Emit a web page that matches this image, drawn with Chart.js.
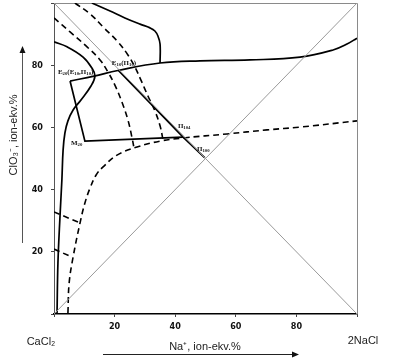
<!DOCTYPE html>
<html>
<head>
<meta charset="utf-8">
<script src="https://cdn.jsdelivr.net/npm/chart.js@4.4.1/dist/chart.umd.min.js"></script>
<style>
  html, body { margin: 0; padding: 0; background: #fff; }
  #wrap { width: 403px; height: 361px; position: relative; }
</style>
</head>
<body>
<div id="wrap"><canvas id="chart"></canvas></div>
<script>
// ── Data (Na+ ion-ekv.%, ClO3- ion-ekv.%) ─────────────────────────
const xTickLabels = [20, 40, 60, 80];
const yTickLabels = [20, 40, 60, 80];

const diagMain  = [[0, 0], [100, 100]];
const diagCross = [[0, 100], [100, 0]];

// solid curves
const curveTop    = [[5.3, 74.9], [13.2, 76.5], [21.1, 78.3], [35.0, 80.7], [48.2, 81.4], [64.7, 81.7], [81.2, 82.6], [92.1, 84.9], [96.7, 86.8], [100, 88.7]];
const curveUpper  = [[12.5, 100], [18.5, 97.4], [23.4, 95.2], [28.4, 93.2], [31.7, 92.0], [33.3, 91.0], [34.3, 89.4], [35.0, 86.8], [35.0, 80.7]];
const curveLeft   = [[0, 87.5], [4.3, 85.9], [9.6, 82.6], [12.5, 79.1], [13.5, 76.5], [12.2, 73.3], [8.9, 68.8], [6.3, 65.6], [4.6, 62.1], [3.6, 58.2], [3.0, 52.7], [2.6, 43.1], [2.0, 31.8], [1.3, 16.4], [1.0, 0.3]];
const polyEdges   = [[5.3, 74.9], [10.2, 55.6], [42.6, 56.9]];
const rayE        = [[21.1, 78.5], [42.6, 56.9], [49.8, 50.2]];

// dashed curves
const dashA = [[0, 95.2], [5.3, 90.7], [10.9, 85.9], [15.2, 81.7], [17.8, 77.8], [20.1, 73.6], [22.4, 68.2], [24.4, 62.4], [25.7, 56.9], [26.4, 53.4]];
const dashB = [[6.9, 100], [11.9, 96.5], [16.2, 92.3], [21.1, 87.5], [24.4, 83.3], [26.7, 79.4], [28.7, 75.2], [31.0, 70.1], [33.3, 65.3], [35.0, 60.5], [36.0, 55.9]];
const dashC = [[4.6, 0.3], [5.0, 10.0], [6.3, 18.3], [8.6, 29.3], [10.2, 35.7], [11.9, 40.5], [13.9, 44.7], [16.2, 47.3], [20.8, 51.1], [27.4, 53.7], [35.0, 55.6], [42.6, 56.6], [57.1, 57.9], [70.3, 59.2], [81.2, 60.1], [100, 62.1]];
const dashS1 = [[0, 32.8], [8.6, 29.3]];
const dashS2 = [[0, 20.9], [5.9, 18.3]];

// point labels: text, x, y (left edge / vertical centre)
const pointNotes = [
  ['E_{20}(E_{10},П_{10})', 1.3, 77.8],
  ['E_{10}(П_{10})', 19.1, 80.7],
  ['M_{20}', 5.6, 55.0],
  ['П_{104}', 40.9, 60.5],
  ['П_{100}', 47.2, 53.1]
];

const pts = arr => arr.map(([x, y]) => ({ x, y }));

function lineSet(arr, opts) {
  return Object.assign({
    data: pts(arr),
    showLine: true,
    pointRadius: 0,
    borderColor: '#000',
    borderWidth: 1.7,
    tension: 0.4,
    fill: false
  }, opts);
}

// draws "A_{sub}" style text on the canvas
function drawRich(ctx, text, x, y, size) {
  const parts = text.split(/(_\{[^}]*\})/).filter(Boolean);
  let cx = x;
  parts.forEach(p => {
    const sub = p.startsWith('_{');
    const t = sub ? p.slice(2, -1) : p;
    ctx.font = `bold ${sub ? size * 0.68 : size}px "Liberation Serif", serif`;
    ctx.fillText(t, cx, sub ? y + size * 0.3 : y);
    cx += ctx.measureText(t).width;
  });
}

const decorPlugin = {
  id: 'decor',
  beforeDatasetsDraw(chart) {
    const { ctx, chartArea: a } = chart;
    ctx.save();
    ctx.strokeStyle = '#8a8a8a';
    ctx.lineWidth = 1;
    ctx.beginPath();
    ctx.moveTo(a.left, a.top + 0.5);
    ctx.lineTo(a.right + 0.5, a.top + 0.5);
    ctx.lineTo(a.right + 0.5, a.bottom);
    ctx.stroke();
    ctx.restore();
  },
  afterDraw(chart) {
    const { ctx, scales: { x, y } } = chart;
    ctx.save();
    ctx.fillStyle = '#111';
    ctx.textBaseline = 'middle';
    ctx.textAlign = 'left';
    pointNotes.forEach(([t, vx, vy]) => drawRich(ctx, t, x.getPixelForValue(vx), y.getPixelForValue(vy), 7));

    // corner labels and axis titles
    ctx.fillStyle = '#222';
    ctx.font = '11px "Liberation Sans", sans-serif';
    ctx.textAlign = 'center';
    ctx.fillText('CaCl₂', 41, 342);
    ctx.fillText('2NaCl', 363, 341);
    ctx.fillText('Na⁺, ion-ekv.%', 205, 347);

    ctx.save();
    ctx.translate(14, 135);
    ctx.rotate(-Math.PI / 2);
    ctx.fillText('ClO₃⁻, ion-ekv.%', 0, 0);
    ctx.restore();

    // arrows
    ctx.strokeStyle = '#222';
    ctx.fillStyle = '#111';
    ctx.lineWidth = 1;
    ctx.beginPath();
    ctx.moveTo(103, 354.5);
    ctx.lineTo(293, 354.5);
    ctx.stroke();
    ctx.beginPath();
    ctx.moveTo(299, 354.5);
    ctx.lineTo(292, 351.5);
    ctx.lineTo(292, 357.5);
    ctx.closePath();
    ctx.fill();

    ctx.strokeStyle = '#555';
    ctx.beginPath();
    ctx.moveTo(22.5, 243);
    ctx.lineTo(22.5, 52);
    ctx.stroke();
    ctx.beginPath();
    ctx.moveTo(22.5, 46);
    ctx.lineTo(19.5, 53);
    ctx.lineTo(25.5, 53);
    ctx.closePath();
    ctx.fill();
    ctx.restore();
  }
};

const tickFont = { family: '"Liberation Sans Narrow", "DejaVu Sans Condensed", sans-serif', size: 9, weight: 'bold' };

new Chart(document.getElementById('chart').getContext('2d'), {
  type: 'scatter',
  data: {
    datasets: [
      lineSet(diagMain,  { borderColor: '#9a9a9a', borderWidth: 1, tension: 0 }),
      lineSet(diagCross, { borderColor: '#9a9a9a', borderWidth: 1, tension: 0 }),
      lineSet(dashA, { borderDash: [6, 4], borderWidth: 1.6 }),
      lineSet(dashB, { borderDash: [6, 4], borderWidth: 1.6 }),
      lineSet(dashC, { borderDash: [6, 4], borderWidth: 1.6 }),
      lineSet(dashS1, { borderDash: [6, 4], borderWidth: 1.6, tension: 0 }),
      lineSet(dashS2, { borderDash: [6, 4], borderWidth: 1.6, tension: 0 }),
      lineSet(curveTop),
      lineSet(curveUpper),
      lineSet(curveLeft),
      lineSet(polyEdges, { tension: 0 }),
      lineSet(rayE, { tension: 0 })
    ]
  },
  options: {
    responsive: true,
    maintainAspectRatio: false,
    animation: false,
    layout: { padding: { top: 3, right: 46, bottom: 0, left: 0 } },
    plugins: { legend: { display: false }, tooltip: { enabled: false } },
    scales: {
      x: {
        type: 'linear', min: 0, max: 100,
        afterFit: s => { s.height = 47; s.paddingLeft = 0; s.paddingRight = 0; },
        border: { color: '#000', width: 1.5 },
        grid: { drawOnChartArea: false, drawTicks: true, tickLength: 3, color: '#444' },
        ticks: { stepSize: 20, padding: 4, color: '#111', font: tickFont, maxRotation: 0,
                 callback: v => xTickLabels.includes(v) ? String(v) : '' }
      },
      y: {
        type: 'linear', min: 0, max: 100,
        afterFit: s => { s.width = 54; s.paddingTop = 0; s.paddingBottom = 0; },
        border: { color: '#555', width: 1 },
        grid: { drawOnChartArea: false, drawTicks: true, tickLength: 3, color: '#444' },
        ticks: { stepSize: 20, padding: 8, color: '#111', font: tickFont,
                 callback: v => yTickLabels.includes(v) ? String(v) : '' }
      }
    }
  },
  plugins: [decorPlugin]
});
</script>
</body>
</html>
